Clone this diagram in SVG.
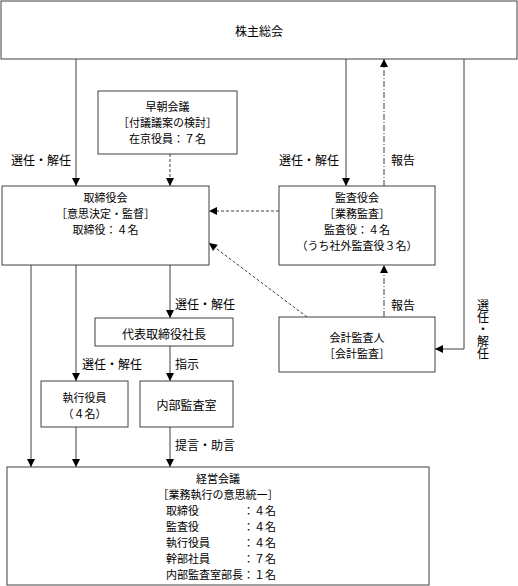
<svg xmlns="http://www.w3.org/2000/svg" width="518" height="586" viewBox="0 0 518 586">
<style>
text{font-family:"Noto Sans CJK JP","Noto Sans",sans-serif;font-size:12px;fill:#000;dominant-baseline:central}
.c{text-anchor:middle}
.m{font-size:11px}
.v{writing-mode:vertical-rl;text-anchor:start}
.box{fill:#fff;stroke:#404040;stroke-width:1}
.ln{fill:none;stroke:#404040;stroke-width:1}
.da{stroke-dasharray:3,2}
.dd{stroke-dasharray:6,2,1,2}
</style>
<defs>
<marker id="ah" markerUnits="userSpaceOnUse" markerWidth="10" markerHeight="10" viewBox="0 0 10 10" refX="9" refY="5" orient="auto">
<path d="M1,1 L9,5 L1,9 Z" fill="#000"/>
</marker>
</defs>
<rect width="518" height="586" fill="#fff"/>
<g id="connectors">
<line class="ln" x1="76" y1="59" x2="76" y2="186" marker-end="url(#ah)"/>
<line class="ln da" x1="170" y1="154" x2="170" y2="186" marker-end="url(#ah)"/>
<line class="ln" x1="346" y1="59" x2="346" y2="186" marker-end="url(#ah)"/>
<line class="ln dd" x1="384" y1="186" x2="384" y2="59" marker-end="url(#ah)"/>
<polyline class="ln" points="464,59 464,349 435,349" marker-end="url(#ah)"/>
<line class="ln da" x1="279" y1="211" x2="209" y2="211" marker-end="url(#ah)"/>
<line class="ln da" x1="307" y1="317" x2="209" y2="243" marker-end="url(#ah)"/>
<line class="ln dd" x1="384" y1="317" x2="384" y2="265" marker-end="url(#ah)"/>
<line class="ln" x1="31" y1="265" x2="31" y2="467" marker-end="url(#ah)"/>
<line class="ln" x1="76" y1="265" x2="76" y2="381" marker-end="url(#ah)"/>
<line class="ln" x1="170" y1="265" x2="170" y2="318" marker-end="url(#ah)"/>
<line class="ln" x1="170" y1="346" x2="170" y2="381" marker-end="url(#ah)"/>
<line class="ln" x1="76" y1="427" x2="76" y2="467" marker-end="url(#ah)"/>
<line class="ln" x1="170" y1="427" x2="170" y2="467" marker-end="url(#ah)"/>
<text x="11" y="159">選任・解任</text>
<text x="279" y="159">選任・解任</text>
<text x="391" y="159">報告</text>
<text x="391" y="304">報告</text>
<text x="175" y="303">選任・解任</text>
<text x="82" y="363">選任・解任</text>
<text x="175" y="363">指示</text>
<text x="175" y="444">提言・助言</text>
<text class="v" x="483" y="299">選任・解任</text>
</g>
<g id="shareholders">
<rect class="box" x="1" y="1" width="516" height="58"/>
<text class="c" x="259" y="30">株主総会</text>
</g>
<g id="morning">
<rect class="box" x="98" y="91" width="139" height="63"/>
<text class="c m" x="167.5" y="106">早朝会議</text>
<text class="c m" x="167.5" y="122">［付議議案の検討］</text>
<text class="c m" x="167.5" y="138">在京役員：７名</text>
</g>
<g id="board">
<rect class="box" x="2" y="186" width="207" height="79"/>
<text class="c m" x="105.5" y="197">取締役会</text>
<text class="c m" x="105.5" y="213">［意思決定・監督］</text>
<text class="c m" x="105.5" y="229">取締役：４名</text>
</g>
<g id="auditors">
<rect class="box" x="279" y="186" width="156" height="79"/>
<text class="c m" x="357" y="197">監査役会</text>
<text class="c m" x="357" y="213">［業務監査］</text>
<text class="c m" x="357" y="229">監査役：４名</text>
<text class="c m" x="357" y="245">（うち社外監査役３名）</text>
</g>
<g id="accountant">
<rect class="box" x="279" y="317" width="156" height="55"/>
<text class="c m" x="357" y="337">会計監査人</text>
<text class="c m" x="357" y="353">［会計監査］</text>
</g>
<g id="president">
<rect class="box" x="95" y="318" width="138" height="28"/>
<text class="c" x="164" y="333">代表取締役社長</text>
</g>
<g id="officers">
<rect class="box" x="41" y="381" width="87" height="46"/>
<text class="c m" x="84.5" y="397">執行役員</text>
<text class="c m" x="84.5" y="413">（４名）</text>
</g>
<g id="internal-audit">
<rect class="box" x="140" y="381" width="93" height="46"/>
<text class="c" x="186.5" y="404">内部監査室</text>
</g>
<g id="management">
<rect class="box" x="7" y="467" width="422" height="118"/>
<text class="c m" x="218" y="478">経営会議</text>
<text class="c m" x="218" y="494">［業務執行の意思統一］</text>
<text class="m" x="166" y="510">取締役</text><text class="m" x="243" y="510">：４名</text>
<text class="m" x="166" y="526">監査役</text><text class="m" x="243" y="526">：４名</text>
<text class="m" x="166" y="542">執行役員</text><text class="m" x="243" y="542">：４名</text>
<text class="m" x="166" y="558">幹部社員</text><text class="m" x="243" y="558">：７名</text>
<text class="m" x="166" y="574">内部監査室部長</text><text class="m" x="243" y="574">：１名</text>
</g>
</svg>
